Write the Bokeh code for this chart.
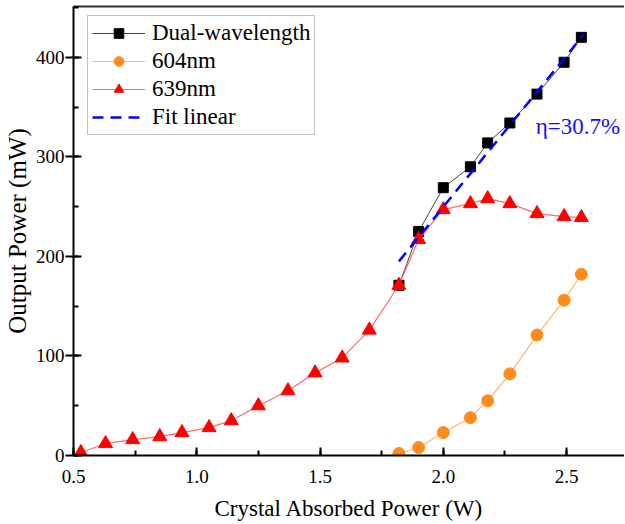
from bokeh.plotting import figure
from bokeh.models import (LinearAxis, Legend, LegendItem, Range1d, Label,
                          SingleIntervalTicker, FixedTicker, NumeralTickFormatter)
from bokeh.embed import file_html
from bokeh.resources import INLINE

# ---- data ----
x_pump = [1.82, 1.90, 2.00, 2.11, 2.18, 2.27, 2.38, 2.49, 2.56]
dual_power = [171, 225, 269, 290, 314, 334, 363, 395, 420]
p604_power = [2, 8, 23, 38, 55, 82, 121, 156, 182]
x_639 = [0.53, 0.63, 0.74, 0.85, 0.94, 1.05, 1.14, 1.25, 1.37, 1.48, 1.59,
         1.70, 1.82, 1.90, 2.00, 2.11, 2.18, 2.27, 2.38, 2.49, 2.56]
p639_power = [3, 12, 16, 19, 23, 28, 35, 50, 65, 83, 98, 126, 171, 217, 247,
              253, 258, 253, 243, 240, 239]
fit_x = [1.82, 2.57]
fit_y = [195, 423]
series_labels = ["Dual-wavelength", "604nm", "639nm", "Fit linear"]
slope_label = "η=30.7%"
slope_pos = (2.375, 330)
x_title = "Crystal Absorbed Power (W)"
y_title = "Output Power (mW)"

FONT = "Liberation Serif"

p = figure(width=624, height=524,
           x_range=Range1d(0.5, 2.735), y_range=Range1d(0, 451),
           output_backend="svg", toolbar_location=None,
           min_border_left=72, min_border_right=0, min_border_top=6,
           min_border_bottom=69,
           x_axis_label=x_title, y_axis_label=y_title)
p.outline_line_color = None
p.xgrid.visible = False
p.ygrid.visible = False
p.background_fill_color = "white"
p.border_fill_color = "white"

# axes
xa = p.xaxis[0]
xa.ticker = SingleIntervalTicker(interval=0.5, num_minor_ticks=2)
xa.formatter = NumeralTickFormatter(format="0.0")
ya = p.yaxis[0]
ya.ticker = SingleIntervalTicker(interval=100, num_minor_ticks=2)

for ax in (xa, ya):
    ax.axis_line_width = 2
    ax.axis_line_color = "black"
    ax.major_tick_line_width = 2
    ax.minor_tick_line_width = 2
    ax.major_tick_line_color = "black"
    ax.minor_tick_line_color = "black"
    ax.major_label_text_font = FONT
    ax.major_label_text_font_size = "19px"
    ax.major_label_text_color = "black"
    ax.axis_label_text_font = FONT
    ax.axis_label_text_font_style = "normal"
    ax.axis_label_text_color = "black"
    ax.minor_tick_in = 5
    ax.minor_tick_out = 0

xa.major_tick_in = 8
xa.major_tick_out = 0
xa.major_label_standoff = 14
xa.axis_label_text_font_size = "23px"
xa.axis_label_standoff = 10

ya.major_tick_in = 8
ya.major_tick_out = 8
ya.major_label_standoff = 1
ya.axis_label_text_font_size = "25px"
ya.axis_label_standoff = 2

top = LinearAxis(ticker=FixedTicker(ticks=[]),
                 major_tick_line_color=None, minor_tick_line_color=None,
                 axis_line_width=2, axis_line_color="#333333")
p.add_layout(top, "above")

# series
l_dual = p.line(x_pump, dual_power, line_color="#444444", line_width=1)
s_dual = p.scatter(x_pump, dual_power, marker="square", size=10,
                   fill_color="black", line_color="black")

l_604 = p.line(x_pump, p604_power, line_color="#FFB970", line_width=1.2)
s_604 = p.scatter(x_pump, p604_power, marker="circle", size=12,
                  fill_color="#FF8C1A", line_color="#FF8C1A")

l_639 = p.line(x_639, p639_power, line_color="#FF6A6A", line_width=1.2)
s_639 = p.scatter(x_639, p639_power, marker="triangle", size=14,
                  fill_color="#FF0000", line_color="#FF0000")

l_fit = p.line(fit_x, fit_y, line_color="#0000FF", line_width=2.5,
               line_dash="11 7")

p.add_layout(Label(x=slope_pos[0], y=slope_pos[1], text=slope_label,
                   text_font=FONT, text_font_size="23px",
                   text_color="#1010FF", text_align="left",
                   text_baseline="alphabetic"))

legend = Legend(items=[
    LegendItem(label=series_labels[0], renderers=[l_dual, s_dual]),
    LegendItem(label=series_labels[1], renderers=[l_604, s_604]),
    LegendItem(label=series_labels[2], renderers=[l_639, s_639]),
    LegendItem(label=series_labels[3], renderers=[l_fit]),
], location=(14, 320))
legend.label_text_font = FONT
legend.label_text_font_size = "23px"
legend.label_text_color = "black"
legend.glyph_width = 53
legend.glyph_height = 24
legend.label_height = 24
legend.label_standoff = 7
legend.spacing = 2
legend.padding = 4
legend.margin = 0
legend.border_line_color = "#888888"
legend.border_line_width = 1
legend.background_fill_color = "white"
legend.background_fill_alpha = 1
p.add_layout(legend)

open("out.html", "w").write(file_html(p, INLINE))
